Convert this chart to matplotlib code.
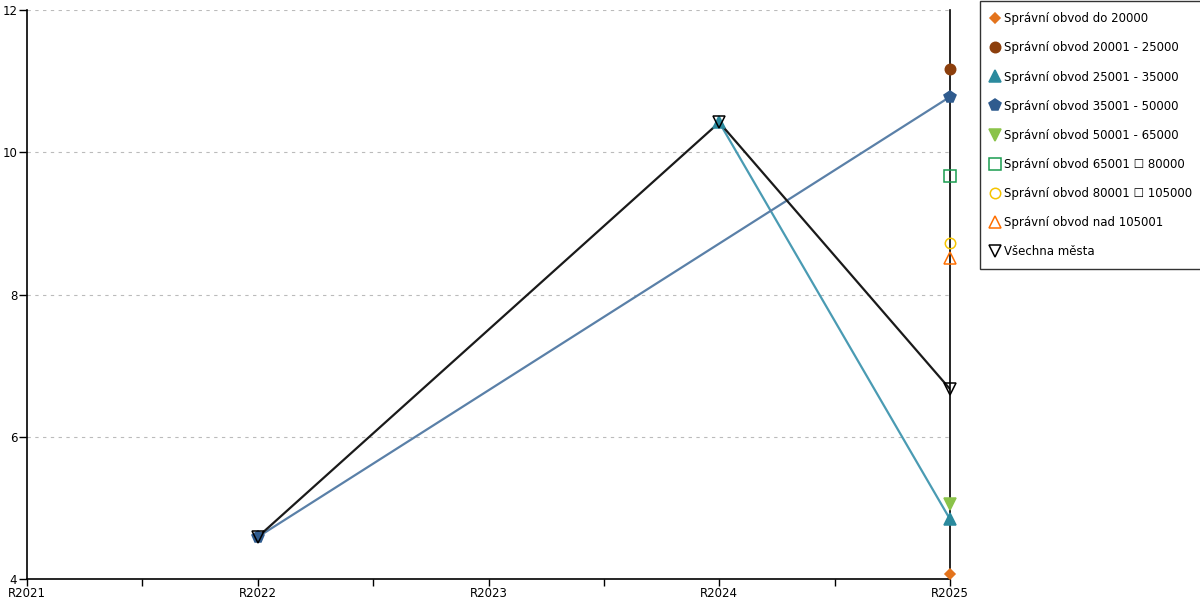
import numpy as np
import matplotlib
matplotlib.use("Agg")
import matplotlib.pyplot as plt
from matplotlib.ticker import MultipleLocator

years = ["R2021", "R2022", "R2023", "R2024", "R2025"]
nan = np.nan
labels = [
    "Správní obvod do 20000",
    "Správní obvod 20001 - 25000",
    "Správní obvod 25001 - 35000",
    "Správní obvod 35001 - 50000",
    "Správní obvod 50001 - 65000",
    "Správní obvod 65001 \u2610 80000",
    "Správní obvod 80001 \u2610 105000",
    "Správní obvod nad 105001",
    "Všechna města",
]
s_do20000 = [nan, nan, nan, nan, 4.07]
s_20001 = [nan, nan, nan, nan, 11.17]
s_25001 = [nan, nan, nan, 10.42, 4.84]
s_35001 = [nan, 4.59, nan, nan, 10.78]
s_50001 = [nan, nan, nan, nan, 5.05]
s_65001 = [nan, nan, nan, nan, 9.67]
s_80001 = [nan, nan, nan, nan, 8.73]
s_nad = [nan, nan, nan, nan, 8.51]
s_all = [nan, 4.59, nan, 10.42, 6.67]
series = [s_do20000, s_20001, s_25001, s_35001, s_50001, s_65001, s_80001, s_nad, s_all]

styles = [
    dict(marker="D", mfc="#e3731c", mec="#e3731c", ms=5.5, lc="#e3731c"),
    dict(marker="o", mfc="#8c3f0c", mec="#8c3f0c", ms=7.5, lc="#8c3f0c"),
    dict(marker="^", mfc="#2b8a9e", mec="#2b8a9e", ms=8, lc="#4a9bb3"),
    dict(marker="p", mfc="#2f5b8e", mec="#2f5b8e", ms=8.5, lc="#5a80a8"),
    dict(marker="v", mfc="#8bc34a", mec="#8bc34a", ms=8, lc="#8bc34a"),
    dict(marker="s", mfc="none", mec="#1a9c50", ms=8, lc="#1a9c50"),
    dict(marker="o", mfc="none", mec="#f5c400", ms=7.5, lc="#f5c400"),
    dict(marker="^", mfc="none", mec="#ff6f00", ms=8.5, lc="#ff6f00"),
    dict(marker="v", mfc="none", mec="#000000", ms=8.5, lc="#1a1a1a"),
]

plt.rcParams['font.family'] = ['DejaVu Sans']
fig = plt.figure(figsize=(12, 6), dpi=100)
ax = fig.add_axes([0.0225, 0.035, 0.7692, 0.9483])

x = np.arange(len(years))
handles = []
for vals, st, lab in zip(series, styles, labels):
    v = np.array(vals, dtype=float)
    m = ~np.isnan(v)
    xs, ys = x[m], v[m]
    if len(xs) > 1:
        ax.plot(xs, ys, color=st["lc"], lw=1.6, zorder=2)
    h, = ax.plot(xs, ys, linestyle="none", marker=st["marker"], markerfacecolor=st["mfc"],
                 markeredgecolor=st["mec"], markersize=st["ms"], markeredgewidth=1.1,
                 label=lab, zorder=3, clip_on=False)
    handles.append(h)

ax.set_xlim(0, 4)
ax.set_ylim(4, 12)
ax.set_xticks(x)
ax.set_xticklabels(years)
ax.xaxis.set_minor_locator(MultipleLocator(0.5))
ax.set_yticks([4, 6, 8, 10, 12])
ax.tick_params(axis='both', labelsize=8.5, direction='out', length=5, width=1, pad=1, colors='black')
ax.tick_params(axis='y', length=6)
ax.tick_params(axis='x', which='minor', length=5, width=1)
ax.yaxis.grid(True, linestyle=(0, (3, 4)), color='#bbbbbb', lw=0.8)
ax.set_axisbelow(True)
ax.spines['top'].set_visible(False)
for s in ['left', 'bottom', 'right']:
    ax.spines[s].set_color('black')
    ax.spines[s].set_linewidth(1.2)

leg = fig.legend(handles=handles, loc='upper left', bbox_to_anchor=(0.8167, 0.998),
                 frameon=True, fancybox=False, edgecolor='black', fontsize=8.5,
                 labelspacing=1.36, handlelength=0.7, handletextpad=0.35,
                 borderpad=0.95, borderaxespad=0)
leg.get_frame().set_linewidth(1)

fig.savefig("out.png", dpi=100)
